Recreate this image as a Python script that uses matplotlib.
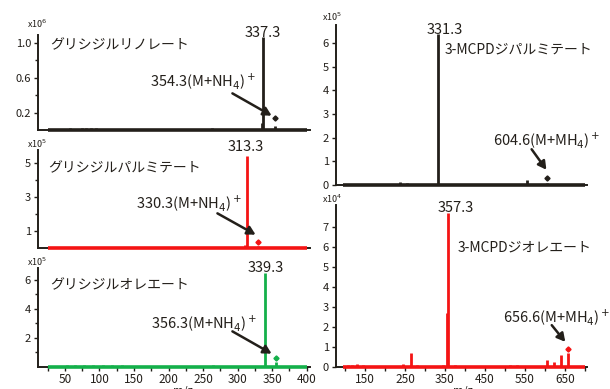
import matplotlib
matplotlib.use("Agg")
import matplotlib.pyplot as plt
from matplotlib.ticker import FixedLocator

plt.rcParams['font.family'] = ['Noto Sans CJK JP', 'DejaVu Sans']

# ---------------- data ----------------
# Glycidyl linoleate (x10^6)
mz_gl = [57, 67, 74, 81, 88, 95, 105, 263, 336, 337.3, 354.3]
int_gl = [0.02, 0.015, 0.02, 0.02, 0.02, 0.02, 0.015, 0.02, 0.08, 1.07, 0.05]
mark_gl = (354.3, 0.14)

# Glycidyl palmitate (x10^5)
mz_gp = [53, 67, 76, 92, 105, 238, 257, 311, 313.3, 330.3]
int_gp = [0.08, 0.06, 0.08, 0.08, 0.06, 0.06, 0.06, 0.2, 5.4, 0.1]
mark_gp = (330.3, 0.34)

# Glycidyl oleate (x10^5)
mz_go = [53, 65, 77, 90, 105, 118, 133, 264, 322, 339.3, 356.3]
int_go = [0.1, 0.08, 0.1, 0.1, 0.08, 0.08, 0.08, 0.1, 0.05, 6.5, 0.3]
mark_go = (356.3, 0.6)

# 3-MCPD dipalmitate (x10^5)
mz_mp = [105, 237, 255, 331.3, 555, 604.6]
int_mp = [0.05, 0.12, 0.08, 6.4, 0.2, 0.08]
mark_mp = (604.6, 0.3)

# 3-MCPD dioleate (x10^4)
mz_mo = [107, 117, 130, 145, 245, 265, 280, 345, 355, 357.3, 375, 512, 530,
         605, 622, 640, 656.6]
int_mo = [0.1, 0.1, 0.15, 0.1, 0.15, 0.7, 0.1, 0.1, 2.7, 7.7, 0.12, 0.08, 0.08,
          0.35, 0.25, 0.6, 0.7]
mark_mo = (656.6, 0.9)

left_range = (25, 400)
right_range = (95, 700)

left_xticks = [50, 100, 150, 200, 250, 300, 350, 400]
right_xticks = [150, 250, 350, 450, 550, 650]

BLACK = '#231f1a'
RED = '#f41414'
GREEN = '#14b04a'

W, H = 610, 389
fig = plt.figure(figsize=(W / 100, H / 100), dpi=100)


def px_axes(x0, y0, x1, y1):
    return fig.add_axes([x0 / W, 1 - y1 / H, (x1 - x0) / W, (y1 - y0) / H])


def fpx(x, y):
    return (x / W, 1 - y / H)


def spectrum(ax, mz, inten, mark, rng, color, xlim, ylim):
    ax.set_xlim(*xlim)
    ax.set_ylim(*ylim)
    ax.hlines(0, rng[0], rng[1], color=color, lw=2.6, clip_on=False, zorder=3)
    ax.vlines(mz, 0, inten, color=color, lw=2.0, clip_on=False, zorder=3)
    ax.plot([mark[0]], [mark[1]], marker='D', ms=2.6, color=color,
            clip_on=False, zorder=4)
    for s in ['top', 'right']:
        ax.spines[s].set_visible(False)
    for s in ['left', 'bottom']:
        ax.spines[s].set_color(BLACK)
        ax.spines[s].set_linewidth(1.4)
    ax.tick_params(axis='y', direction='out', length=3, width=1, labelsize=8,
                   pad=2, colors=BLACK)
    ax.tick_params(axis='y', which='minor', length=2, width=1, colors=BLACK)
    ax.patch.set_alpha(0)


def arrow(x0, y0, x1, y1):
    fig.add_artist(matplotlib.patches.FancyArrowPatch(
        fpx(x0, y0), fpx(x1, y1), transform=fig.transFigure,
        arrowstyle='-|>,head_length=4,head_width=2.2', lw=1.8, color=BLACK,
        mutation_scale=1.2))


def ftext(x, y, s, size=10, ha='left', **kw):
    fig.text(*fpx(x, y), s, fontsize=size, ha=ha, va='center', color=BLACK, **kw)


# ---------- left column ----------
lxlim = (10.9, 405)
a1 = px_axes(38, 35, 310, 130)
spectrum(a1, mz_gl, int_gl, mark_gl, left_range, BLACK, lxlim, (0, 1.092))
a1.yaxis.set_major_locator(FixedLocator([0.2, 0.6, 1.0]))
a1.yaxis.set_minor_locator(FixedLocator([0.4, 0.8]))
a1.set_yticklabels(['0.2', '0.6', '1.0'])
a1.set_xticks([])

a2 = px_axes(38, 150, 310, 248)
spectrum(a2, mz_gp, int_gp, mark_gp, left_range, RED, lxlim, (0, 5.76))
a2.yaxis.set_major_locator(FixedLocator([1, 3, 5]))
a2.yaxis.set_minor_locator(FixedLocator([2, 4]))
a2.set_xticks([])

a3 = px_axes(38, 268, 310, 366.5)
spectrum(a3, mz_go, int_go, mark_go, left_range, GREEN, lxlim, (0, 6.84))
a3.yaxis.set_major_locator(FixedLocator([2, 4, 6]))
a3.yaxis.set_minor_locator(FixedLocator([1, 3, 5]))
a3.set_xticks(left_xticks)
a3.xaxis.set_minor_locator(FixedLocator([25, 75, 125, 175, 225, 275, 325, 375]))
a3.tick_params(axis='x', direction='out', length=3, width=1, labelsize=8.5,
               pad=1.5, colors=BLACK)
a3.tick_params(axis='x', which='minor', length=3, width=1, colors=BLACK)

# ---------- right column ----------
rxlim = (77.5, 705)
r1 = px_axes(336, 25, 587, 185)
spectrum(r1, mz_mp, int_mp, mark_mp, right_range, BLACK, rxlim, (0, 6.76))
r1.yaxis.set_major_locator(FixedLocator([0, 1, 2, 3, 4, 5, 6]))
r1.set_xticks([])

r2 = px_axes(336, 205, 587, 367)
spectrum(r2, mz_mo, int_mo, mark_mo, right_range, RED, rxlim, (0, 8.1))
r2.yaxis.set_major_locator(FixedLocator([0, 1, 2, 3, 4, 5, 6, 7]))
r2.set_xticks(right_xticks)
r2.xaxis.set_minor_locator(FixedLocator([100, 200, 300, 400, 500, 600, 700]))
r2.tick_params(axis='x', direction='out', length=3, width=1, labelsize=8.5,
               pad=1.5, colors=BLACK)
r2.tick_params(axis='x', which='minor', length=3, width=1, colors=BLACK)

# ---------- multipliers ----------
ftext(27, 24, r'x10$^6$', size=6.5)
ftext(27, 144, r'x10$^5$', size=6.5)
ftext(27, 262, r'x10$^5$', size=6.5)
ftext(322, 17, r'x10$^5$', size=6.5)
ftext(322, 199, r'x10$^4$', size=6.5)

# ---------- compound names ----------
ftext(50, 45, 'グリシジルリノレート', size=10)
ftext(48, 168, 'グリシジルパルミテート', size=10)
ftext(50, 285, 'グリシジルオレエート', size=10)
ftext(445, 50, '3-MCPDジパルミテート', size=10)
ftext(458, 248, '3-MCPDジオレエート', size=10)

# ---------- peak labels ----------
ftext(263, 33, '337.3', size=10.5, ha='center')
ftext(246, 147, '313.3', size=10.5, ha='center')
ftext(266, 268, '339.3', size=10.5, ha='center')
ftext(445, 30, '331.3', size=10.5, ha='center')
ftext(456, 208, '357.3', size=10.5, ha='center')

ftext(150, 81, r'354.3(M+NH$_4$)$^+$', size=10.5)
ftext(136, 203, r'330.3(M+NH$_4$)$^+$', size=10.5)
ftext(151, 323, r'356.3(M+NH$_4$)$^+$', size=10.5)
ftext(493, 140, r'604.6(M+MH$_4$)$^+$', size=10.5)
ftext(503, 317, r'656.6(M+MH$_4$)$^+$', size=10.5)

arrow(230, 92, 274, 117)
arrow(215, 212, 258, 236)
arrow(230, 330, 274, 355)
arrow(530, 147, 548, 172)
arrow(550, 323, 567, 344)

# ---------- axis titles ----------
ftext(183, 391, 'm/z', size=8, ha='center', style='italic')
ftext(463, 391, 'm/z', size=8, ha='center', style='italic')

fig.savefig('out.png', dpi=100)
